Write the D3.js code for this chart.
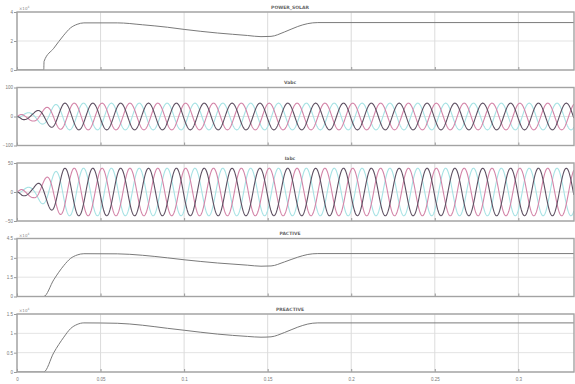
<!DOCTYPE html>
<html>
<head>
<meta charset="utf-8">
<script src="https://cdn.jsdelivr.net/npm/d3@7"></script>
<style>
  body { margin: 0; background: #fff; }
  svg { display: block; font-family: "DejaVu Sans", Arial, sans-serif; }
</style>
</head>
<body>
<svg id="chart" width="575" height="384"></svg>
<script>
// ---- data ----
const titles = ['POWER_SOLAR', 'Vabc', 'Iabc', 'PACTIVE', 'PREACTIVE'];
const timeTicks = [0, 0.05, 0.1, 0.15, 0.2, 0.25, 0.3];
const timeEnd = 0.3333;

// solar power (x10^4)
const solarT = [0, 0.0160, 0.0162, 0.022, 0.028, 0.032, 0.036, 0.040, 0.06, 0.075, 0.09, 0.10, 0.12, 0.138, 0.146, 0.152, 0.160, 0.168, 0.174, 0.180, 0.3333];
const solarP = [0, 0, 0.6, 1.5, 2.4, 2.9, 3.15, 3.25, 3.25, 3.12, 2.95, 2.8, 2.55, 2.38, 2.3, 2.32, 2.62, 3.0, 3.2, 3.27, 3.27];

// active power (x10^4)
const activeT = [0, 0.0160, 0.022, 0.028, 0.032, 0.036, 0.040, 0.06, 0.075, 0.09, 0.10, 0.12, 0.138, 0.146, 0.152, 0.160, 0.168, 0.174, 0.180, 0.3333];
const activeP = [0, 0, 1.3, 2.4, 2.95, 3.22, 3.32, 3.31, 3.2, 3.0, 2.85, 2.6, 2.43, 2.35, 2.37, 2.68, 3.05, 3.26, 3.33, 3.33];

// reactive power (x10^4)
const reactiveT = [0, 0.0160, 0.022, 0.028, 0.032, 0.036, 0.040, 0.06, 0.075, 0.09, 0.10, 0.12, 0.138, 0.146, 0.152, 0.160, 0.168, 0.174, 0.180, 0.3333];
const reactiveQ = [0, 0, 0.5, 0.9, 1.12, 1.23, 1.27, 1.26, 1.21, 1.13, 1.08, 0.98, 0.92, 0.9, 0.91, 1.02, 1.16, 1.24, 1.27, 1.27];

// three-phase waves: 60 Hz, amplitude envelopes
const lineFreq = 60;
const phaseDeg = [-170, -290, -50];           // dark, pink, cyan
const phaseColors = ['#5e5062', '#d384a8', '#a6e2e4'];
const voltEnvT = [0, 0.003, 0.010, 0.016, 0.022, 0.028, 0.3333];
const voltEnvA = [0, 10, 16, 28, 40, 46, 46];
const currEnvT = [0, 0.003, 0.010, 0.016, 0.022, 0.028, 0.3333];
const currEnvA = [0, 6, 10, 22, 34, 41, 41];

const yDomains = [[0, 4], [-100, 100], [-50, 50], [0, 4.5], [0, 1.5]];
const yTicks = [[0, 2, 4], [-100, 0, 100], [-50, 0, 50], [0, 1.5, 3, 4.5], [0, 0.5, 1, 1.5]];
const hasExp = [true, false, false, true, true];

// ---- layout ----
const left = 17, right = 574, panelTop = 12, panelStep = 75.5, panelH = 58;
const svg = d3.select('#chart');
const x = d3.scaleLinear().domain([0, timeEnd]).range([left, right]);

const sampleT = d3.range(0, timeEnd, 0.0002);

function wave(envT, envA, phase) {
  const env = d3.scaleLinear().domain(envT).range(envA).clamp(true);
  return sampleT.map(t => [t, env(t) * Math.sin(2 * Math.PI * lineFreq * t + phase * Math.PI / 180)]);
}

titles.forEach((title, i) => {
  const top = panelTop + i * panelStep;
  const y = d3.scaleLinear().domain(yDomains[i]).range([top + panelH, top]);
  const g = svg.append('g');

  // grid
  g.selectAll('.vg').data(timeTicks).enter().append('line')
    .attr('x1', d => x(d)).attr('x2', d => x(d))
    .attr('y1', top).attr('y2', top + panelH)
    .attr('stroke', '#d2d2d2').attr('stroke-width', 0.8);
  g.selectAll('.hg').data(yTicks[i]).enter().append('line')
    .attr('x1', left).attr('x2', right)
    .attr('y1', d => y(d)).attr('y2', d => y(d))
    .attr('stroke', '#dcdcdc').attr('stroke-width', 0.8);

  // y axis labels
  const yAxis = d3.axisLeft(y).tickValues(yTicks[i]).tickSize(3).tickFormat(d3.format('~g'));
  const ya = g.append('g').attr('transform', `translate(${left},0)`).call(yAxis);
  ya.select('.domain').remove();
  ya.selectAll('line').attr('stroke', '#999');
  ya.selectAll('text').attr('font-size', 4.5).attr('fill', '#777').attr('x', -4);

  // x axis (bottom panel only shows labels)
  const xAxis = d3.axisBottom(x).tickValues(timeTicks).tickSize(-3).tickFormat(i === 4 ? d3.format('~g') : '');
  const xa = g.append('g').attr('transform', `translate(0,${top + panelH})`).call(xAxis);
  xa.select('.domain').remove();
  xa.selectAll('line').attr('stroke', '#999');
  xa.selectAll('text').attr('font-size', 4.5).attr('fill', '#777').attr('y', 6);

  // title
  g.append('text').attr('x', 290).attr('y', top - 3.5)
    .attr('text-anchor', 'middle').attr('font-size', 4.5).attr('font-weight', 'bold')
    .attr('fill', '#666').text(title);

  if (hasExp[i]) {
    g.append('text').attr('x', left + 2).attr('y', top - 2).attr('font-size', 4).attr('fill', '#888')
      .text('×10').append('tspan').attr('dy', -2).attr('font-size', 3).text('4');
  }

  const line = d3.line().x(d => x(d[0])).y(d => y(d[1]));
  const clipId = 'clip' + i;
  svg.append('clipPath').attr('id', clipId).append('rect')
    .attr('x', left).attr('y', top).attr('width', right - left).attr('height', panelH);
  const plot = g.append('g').attr('clip-path', `url(#${clipId})`);

  if (i === 0 || i === 3 || i === 4) {
    const ts = i === 0 ? solarT : i === 3 ? activeT : reactiveT;
    const vs = i === 0 ? solarP : i === 3 ? activeP : reactiveQ;
    plot.append('path').datum(ts.map((t, k) => [t, vs[k]]))
      .attr('d', line.curve(d3.curveMonotoneX)).attr('fill', 'none').attr('stroke', '#7a7a7a').attr('stroke-width', 1);
    line.curve(d3.curveLinear);
  } else {
    const envT = i === 1 ? voltEnvT : currEnvT;
    const envA = i === 1 ? voltEnvA : currEnvA;
    [2, 1, 0].forEach(p => {
      plot.append('path').datum(wave(envT, envA, phaseDeg[p]))
        .attr('d', line).attr('fill', 'none')
        .attr('stroke', phaseColors[p]).attr('stroke-width', 1.1);
    });
  }

  // frame
  g.append('rect').attr('x', left).attr('y', top).attr('width', right - left).attr('height', panelH)
    .attr('fill', 'none').attr('stroke', '#a3a3a3').attr('stroke-width', 1.4);
});
</script>
</body>
</html>
